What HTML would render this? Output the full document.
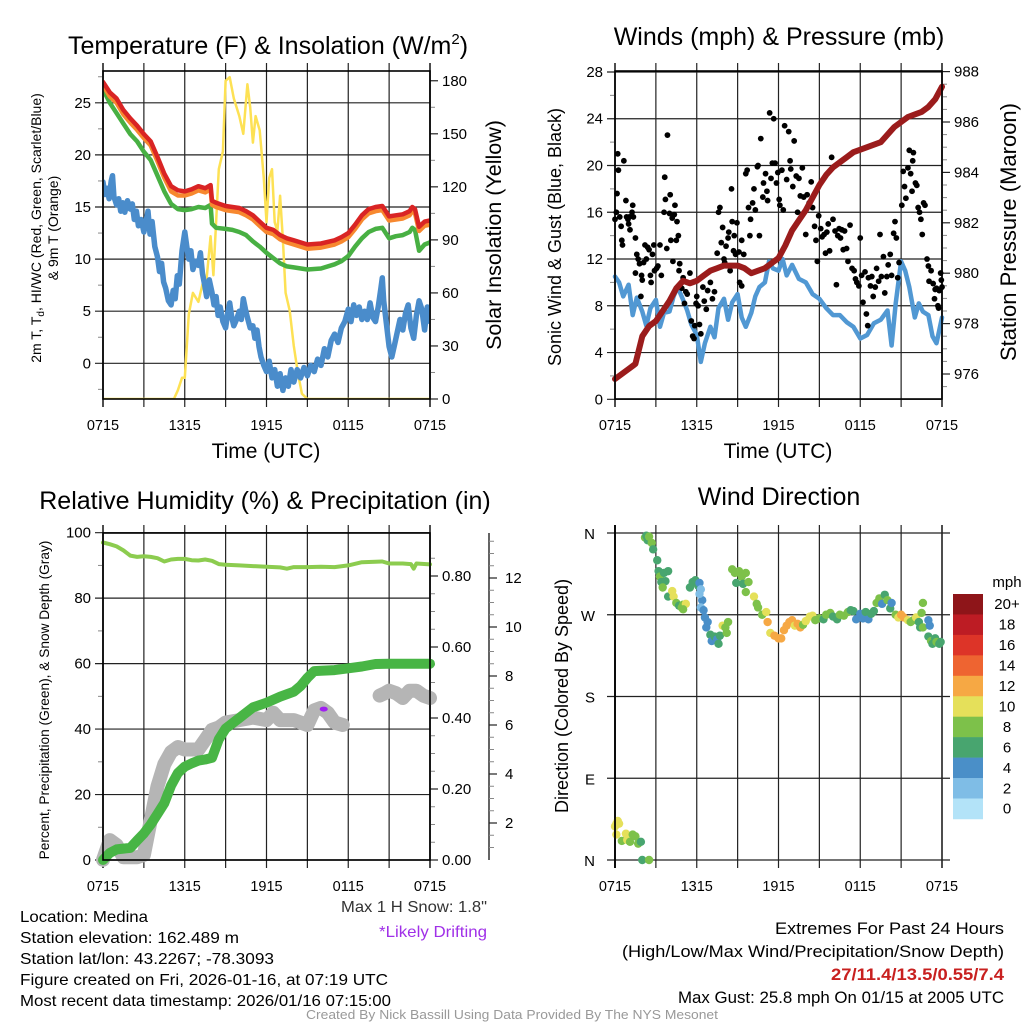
<!DOCTYPE html>
<html><head><meta charset="utf-8">
<style>
html,body{margin:0;padding:0;background:#fff;}
svg{display:block;font-family:"Liberation Sans",sans-serif;}
</style></head>
<body>
<svg id="fig" width="1024" height="1024" viewBox="0 0 1024 1024" xmlns="http://www.w3.org/2000/svg">
<rect width="1024" height="1024" fill="#fff"/>
<g id="p1"></g>
<g id="p2"></g>
<g id="p3"></g>
<g id="p4"></g>

<text x="268" y="54" font-size="25" text-anchor="middle">Temperature (F) &amp; Insolation (W/m<tspan dy="-10" font-size="15">2</tspan><tspan dy="10">)</tspan></text>
<text x="779" y="45" font-size="25" text-anchor="middle">Winds (mph) &amp; Pressure (mb)</text>
<text x="265" y="509" font-size="25" text-anchor="middle">Relative Humidity (%) &amp; Precipitation (in)</text>
<text x="779" y="505" font-size="25" text-anchor="middle">Wind Direction</text>

<text x="266" y="458" font-size="21" text-anchor="middle">Time (UTC)</text>
<text x="778" y="458" font-size="21" text-anchor="middle">Time (UTC)</text>

<text transform="translate(41,228) rotate(-90)" font-size="14" text-anchor="middle">2m T, T<tspan dy="3" font-size="10">d</tspan><tspan dy="-3">, HI/WC (Red, Green, Scarlet/Blue)</tspan></text>
<text transform="translate(58,228) rotate(-90)" font-size="14" text-anchor="middle">&amp; 9m T (Orange)</text>
<text transform="translate(501,235) rotate(-90)" font-size="21.5" text-anchor="middle">Solar Insolation (Yellow)</text>
<text transform="translate(561,237) rotate(-90)" font-size="18" text-anchor="middle">Sonic Wind &amp; Gust (Blue, Black)</text>
<text transform="translate(1016,232) rotate(-90)" font-size="22" text-anchor="middle">Station Pressure (Maroon)</text>
<text transform="translate(49,700) rotate(-90)" font-size="13.7" text-anchor="middle">Percent, Precipitation (Green), &amp; Snow Depth (Gray)</text>
<text transform="translate(568,696) rotate(-90)" font-size="18" text-anchor="middle">Direction (Colored By Speed)</text>

<text x="487" y="912" font-size="16" text-anchor="end" fill="#333" textLength="146" lengthAdjust="spacingAndGlyphs">Max 1 H Snow: 1.8"</text>
<text x="487" y="937" font-size="16" text-anchor="end" fill="#a030e8" textLength="108" lengthAdjust="spacingAndGlyphs">*Likely Drifting</text>

<g font-size="16">
<text x="20" y="922" textLength="128" lengthAdjust="spacingAndGlyphs">Location: Medina</text>
<text x="20" y="943" textLength="219" lengthAdjust="spacingAndGlyphs">Station elevation: 162.489 m</text>
<text x="20" y="964" textLength="254" lengthAdjust="spacingAndGlyphs">Station lat/lon: 43.2267; -78.3093</text>
<text x="20" y="985" textLength="368" lengthAdjust="spacingAndGlyphs">Figure created on Fri, 2026-01-16, at 07:19 UTC</text>
<text x="20" y="1006" textLength="371" lengthAdjust="spacingAndGlyphs">Most recent data timestamp: 2026/01/16 07:15:00</text>
</g>
<g font-size="17" text-anchor="end">
<text x="1004" y="934" textLength="229" lengthAdjust="spacingAndGlyphs">Extremes For Past 24 Hours</text>
<text x="1004" y="957" textLength="382" lengthAdjust="spacingAndGlyphs">(High/Low/Max Wind/Precipitation/Snow Depth)</text>
<text x="1004" y="980" fill="#c8201f" font-weight="bold" textLength="173" lengthAdjust="spacingAndGlyphs">27/11.4/13.5/0.55/7.4</text>
<text x="1004" y="1003" textLength="326" lengthAdjust="spacingAndGlyphs">Max Gust: 25.8 mph On 01/15 at 2005 UTC</text>
</g>
<text x="512" y="1019" font-size="13" text-anchor="middle" fill="#999" textLength="412" lengthAdjust="spacingAndGlyphs">Created By Nick Bassill Using Data Provided By The NYS Mesonet</text>
</svg>

<script>
// ---------- DATA ----------
const xTickLabels = ["0715","1315","1915","0115","0715"];
// Temperature panel (hours since 0715)
const tempT  = [0,0.5,1,1.5,2,2.5,3,3.5,4,4.5,5,5.5,6,6.5,7,7.5,7.9,8.0,8.3,9,9.5,10,10.5,11,11.5,12,12.5,13,13.5,14,15,16,17,17.5,18,18.5,19,19.5,20,20.5,21,21.5,22,22.5,22.7,22.9,23.2,23.6,24];
const tempRed= [27,26,25.4,24.3,23.5,22.8,22,21.3,19.8,18.2,17,16.6,16.5,16.7,17,16.8,17.1,15.6,15.4,15.1,15,14.9,14.6,14.2,13.6,13,12.8,12.3,12,11.8,11.4,11.5,11.8,12.1,12.5,13.3,14.2,14.8,15,15.1,14.1,14.2,14.3,14.6,15,14.8,13.1,13.6,13.7];
const tempOrg= [26.7,25.6,25,23.9,23.1,22.4,21.6,20.9,19.4,17.8,16.5,16.1,16.1,16.3,16.6,16.4,16.7,15.2,15,14.7,14.6,14.5,14.2,13.8,13.2,12.6,12.4,11.9,11.6,11.4,11,11.1,11.4,11.7,12.1,12.9,13.8,14.4,14.6,14.7,13.7,13.8,13.9,14.2,14.6,14.4,12.7,13.2,13.3];
const tempGrn= [26.3,25,24,23,22,21.3,20.3,19.5,18,16.5,15.3,14.8,14.7,14.8,15,14.9,15.2,13.4,13,12.9,12.8,12.6,12.3,11.7,11.2,10.6,10.1,9.6,9.3,9.2,9,9.1,9.5,9.8,10.3,11.2,12,12.6,12.9,13,12,12.2,12.3,12.6,13,12.8,10.8,11.4,11.6];
const dewT   = [0,0.15,0.3,0.45,0.6,0.7,0.8,1,1.15,1.3,1.45,1.6,1.8,2,2.15,2.3,2.45,2.6,2.8,3,3.15,3.3,3.45,3.6,3.8,4,4.15,4.3,4.45,4.6,4.8,5,5.15,5.3,5.45,5.6,5.8,6,6.15,6.3,6.45,6.6,6.8,7,7.15,7.3,7.45,7.6,7.8,8,8.15,8.3,8.45,8.6,8.8,9,9.15,9.3,9.45,9.6,9.8,10,10.15,10.3,10.45,10.6,10.8,11,11.15,11.3,11.45,11.6,11.8,12,12.2,12.4,12.6,12.8,13,13.2,13.4,13.6,13.8,14,14.25,14.5,14.75,15,15.25,15.5,15.75,16,16.25,16.5,16.75,17,17.25,17.5,17.75,18,18.2,18.4,18.6,18.8,19,19.2,19.4,19.6,19.8,20,20.2,20.4,20.5,20.6,20.8,21,21.2,21.4,21.6,21.8,22,22.2,22.4,22.6,22.8,23,23.2,23.4,23.6,23.8,24];
const dewVal = [17.4,16.2,16.8,15.8,17.5,18,16,15.2,15.8,14.6,15.4,14.5,15.6,14.8,15.3,13.8,14.6,13.2,13.8,12.6,13.5,14.6,12.4,13.6,11.2,10.2,8.8,9.6,7.8,7.2,6,5.6,7,6.2,8.4,7.6,10.8,12.6,11.2,10,10.8,9,9.8,9.4,10.6,8.6,7.6,6.4,8,6.8,5.6,6.4,4.6,5.4,4,3.4,4.8,5.8,4.4,3.6,4.2,5,4.2,6.2,5.2,4.4,3.4,3.6,2.4,3.2,1.6,0.6,-0.2,-0.8,0.2,-1.4,-0.6,-2.2,-1,-2.6,-1.4,-2.2,-0.6,-1.8,-0.6,-1.4,-0.4,-1.2,-0.2,-0.8,0.4,-0.2,1.4,0.6,2.2,2.8,2,3.4,4,5.2,4,5.6,4.6,5.4,4.2,5,4.2,5.8,4.4,4,5.4,7.2,8.2,6,3.8,1.6,0.6,1.8,3,4.2,3.2,4.8,5.6,3.4,2.4,4.6,6,5.2,3.2,5.4,4,4.2];
const solT   = [0,5.2,5.5,5.8,6,6.3,6.6,7,7.3,7.6,7.9,8.1,8.3,8.5,8.8,9,9.3,9.6,10,10.3,10.6,10.8,11,11.2,11.5,11.8,12,12.2,12.4,12.6,12.8,13,13.2,13.4,13.7,14,14.3,14.6,15,24];
const solVal = [0,0,5,12,12,48,60,55,65,68,92,70,100,130,140,180,182,170,160,150,178,165,145,160,152,125,100,125,130,100,95,115,90,60,50,30,15,3,0,0];
// Wind panel
const windT  = [0,0.3,0.6,1,1.3,1.6,2,2.3,2.6,3,3.3,3.6,4,4.3,4.6,5,5.3,5.6,6,6.3,6.6,7,7.3,7.6,8,8.3,8.6,9,9.3,9.6,10,10.3,10.6,11,11.3,11.6,12,12.3,12.6,13,13.5,14,14.5,15,15.5,16,16.5,17,17.5,18,18.5,19,19.5,20,20.3,20.6,21,21.3,21.6,22,22.3,22.6,23,23.3,23.6,24];
const windVal= [10.5,10,8.8,9.8,7.2,8.7,7.5,6.3,7.8,8.5,6.2,7.4,7.5,8.8,9.6,8.5,7.6,6.4,5.5,3.2,4.8,6.2,5.3,7.8,8.6,6.8,8.3,9,7,6.2,7.4,8.8,9.6,10,11.8,11.2,11,12,10.6,11.5,10.3,10,9,8.6,7.8,7.2,7.2,6.6,6.2,5.2,5.5,6.5,6.8,7.6,4.6,8.2,11.8,11,9.6,7,8.2,7.5,7.2,5.4,4.8,7];
const presT  = [0,0.5,1,1.5,2,2.5,3,3.5,4,4.5,5,5.5,6,6.5,7,7.5,8,8.5,9,9.5,10,10.5,11,11.5,12,12.5,13,13.5,14,14.5,15,15.5,16,16.5,17,17.5,18,18.5,19,19.5,20,20.5,21,21.5,22,22.5,23,23.5,24];
const presVal= [975.8,976.0,976.2,976.4,977.5,977.9,978.1,978.5,978.9,979.4,979.7,979.6,979.7,979.9,980.1,980.2,980.3,980.3,980.3,980.2,980.0,980.1,980.2,980.4,980.6,981.1,981.7,982.1,982.5,983.0,983.5,983.9,984.2,984.4,984.6,984.8,984.9,985.0,985.1,985.2,985.5,985.8,986.0,986.2,986.3,986.4,986.6,986.9,987.4];
const gustT  = [0,0.1,0.15,0.2,0.25,0.35,0.45,0.5,0.55,0.65,0.8,0.85,0.95,1,1.05,1.1,1.25,1.3,1.35,1.5,1.5,1.6,1.7,1.8,1.9,1.95,2,2.1,2.2,2.3,2.4,2.5,2.6,2.65,2.75,2.85,2.9,3.05,3.15,3.3,3.4,3.6,3.65,3.7,3.8,3.85,4,4.05,4.1,4.2,4.25,4.35,4.4,4.5,4.55,4.65,4.7,4.75,4.9,5,5.1,5.2,5.3,5.5,5.6,5.7,5.8,5.85,5.95,6,6.1,6.2,6.3,6.45,6.55,6.7,6.8,7,7.15,7.3,7.5,7.6,7.7,7.8,7.9,8,8.05,8.15,8.3,8.35,8.45,8.55,8.6,8.7,8.75,8.85,8.95,9.1,9.15,9.3,9.3,9.45,9.6,9.7,9.8,9.9,9.95,10.1,10.2,10.3,10.45,10.5,10.6,10.7,10.85,10.9,11.05,11.15,11.2,11.35,11.45,11.55,11.65,11.75,11.85,11.95,12.05,12.1,12.25,12.35,12.45,12.6,12.75,12.85,12.9,13.05,13.15,13.3,13.4,13.5,13.6,13.75,13.85,14,14.1,14.25,14.4,14.5,14.65,14.75,14.85,14.95,15.1,15.2,15.35,15.45,15.55,15.65,15.75,15.9,16,16.15,16.25,16.35,16.45,16.55,16.65,16.75,16.85,17,17.1,17.25,17.4,17.55,17.65,17.75,17.9,18,18.1,18.2,18.35,18.45,18.55,18.6,18.75,18.85,18.95,19.1,19.2,19.35,19.45,19.55,19.7,19.8,19.95,20.05,20.2,20.3,20.45,20.55,20.65,20.75,20.85,21.05,21.15,21.25,21.35,21.5,21.6,21.7,21.8,21.85,21.9,22.05,22.15,22.25,22.35,22.45,22.55,22.65,22.75,22.9,23,23.05,23.2,23.35,23.45,23.5,23.6,23.7,23.75,23.8,23.9,23.95,24];
const gustVal= [15.4,16,17.6,21,19.6,15.6,14.8,13.6,13.2,20.4,17,15.6,15.4,15,15.6,14.5,16,16.6,15.6,13.8,10.8,12.4,12,11.6,8.8,10.6,10.2,11.7,13.2,12,13,12.8,10.6,10,12.4,13.2,11,11.2,11.4,13.2,10.6,16,19,17.1,12.9,22.6,15.9,17.5,13.6,15.5,11.8,15.8,16.6,13.6,15.2,14,11,11.6,9.5,10.4,8.2,9.2,9,10.8,6.7,5.4,5.2,6.3,8.2,8.8,8,6.4,5.6,9.6,8.4,7.7,9.3,10,8.6,9.2,12.5,16,16.4,13.4,14.7,12,11.7,13.1,13.8,14.3,11,18,15.2,12.7,14,12.4,15.1,12.6,10,9.7,13.6,12.4,19.3,19.6,16.4,14,15.4,16.8,18,16.2,19.9,20,14,22.3,17.3,18.5,19.3,17.8,17,24.5,18.9,20.2,24,20.2,18.5,19.4,17.1,16.6,19.6,16.2,23.4,18.8,22.9,20.4,19.7,18.2,22.1,19.1,16,18.9,17.4,19.8,17.3,14.1,17.5,16.8,18.6,16.4,14.8,13.6,11.8,15.7,14.6,13.9,14.1,12.5,14.3,15,12.7,20.7,15.4,14.4,9.8,14,14.6,13.8,14.5,12.8,14.4,12.9,11.8,14.9,11.2,11,10.3,10,9.7,13.8,10.6,8.3,10.9,7.3,6.3,10.4,9.7,10.5,8.8,9.6,11.2,10.1,14.1,10.5,12.2,9.1,10.5,11.5,12.4,10.6,14.2,15.2,13.8,10.4,11.7,16.6,19.5,18.2,17.2,19.8,21.3,19.3,17.8,20.4,21.1,18.5,18.3,16.4,16,15.4,14.1,16.8,16.6,12,11.4,10.1,11,9.9,8.6,9.4,9.5,8,7.8,9.3,10.8,10.2,9.6];
// Humidity panel
const rhT    = [0,0.5,1,1.5,2,2.5,3,3.5,4,4.5,5,5.5,6,6.5,7,7.5,8,8.5,9,10,11,12,13,13.5,14,15,16,17,18,19,20,20.5,21,22,22.6,22.8,23,24];
const rhVal  = [97,96.5,95.8,94.6,93,92.6,92.8,92.6,92.2,91.2,91.8,92,92,91.6,91.5,91.8,91.4,90.4,90.2,90,89.8,89.6,89.4,89,89.5,89.5,89.6,89.5,90,91,91.1,91.2,90.6,90.6,90.4,89,90.6,90.3];
const prT    = [0,0.5,1,1.5,2,2.5,3,3.5,4,4.5,5,5.5,6,6.5,7,7.5,8,8.5,9,9.5,10,11,12,13,14,14.5,15,15.5,16,17,18,19,20,21,22,23,24];
const prVal  = [0,0.02,0.03,0.032,0.034,0.055,0.075,0.1,0.13,0.16,0.21,0.245,0.263,0.272,0.28,0.283,0.288,0.34,0.37,0.385,0.4,0.43,0.443,0.46,0.474,0.49,0.513,0.532,0.533,0.535,0.54,0.545,0.552,0.553,0.553,0.553,0.553];
const snowT  = [0,0.5,1,1.5,2,2.5,3,3.5,4,4.5,5,5.5,6,6.5,7,7.5,8,8.5,9,10,11,12,12.5,13,14,15,15.5,16,16.5,17,17.6,20.3,20.7,21,21.5,22,22.5,23,23.5,24];
const snowVal= [0.5,1.3,1.1,0.6,0.6,0.6,0.7,2.1,3.5,4.4,4.9,5.1,5.0,5.0,5.0,5.4,5.8,5.9,6.1,6.2,6.3,6.2,6.5,6.2,6.2,6.0,6.6,6.7,6.5,6.1,6.0,7.2,7.3,7.4,7.3,7.1,7.4,7.4,7.2,7.1];
const snowGapAfter = 17.6;
const driftT = [1.6,16.2];
const driftVal=[1.0,6.65];
// Wind direction panel
const dirT   = [0,0.1,0.2,0.3,0.1,0.5,0.8,0.9,1.1,1.3,1.5,1.7,1.9,2.0,2.5,2.2,2.3,2.4,2.5,2.7,2.8,3.1,3.2,3.3,3.4,3.6,3.7,3.9,3.5,3.9,4.2,4.3,4.5,4.7,4.9,5.0,5.2,5.0,5.5,5.7,5.9,6.1,6.2,6.3,6.4,6.2,6.3,6.5,6.6,6.8,6.7,7.0,7.1,7.3,7.5,7.6,7.7,7.9,8.1,8.3,8.2,8.6,8.8,8.9,9.1,9.3,9.4,9.6,9.8,9.6,10.2,10.4,10.5,10.8,11.2,11.1,11.4,11.7,12.0,12.2,12.4,12.6,12.8,13.0,13.2,13.4,13.6,13.8,14.0,14.3,14.5,14.7,15.0,15.3,15.5,15.8,16.0,16.3,16.5,16.8,17.1,17.3,17.5,17.7,18.0,18.2,18.4,18.6,18.8,19.0,19.2,19.4,19.6,19.8,20.0,20.2,20.3,20.6,20.8,21.0,21.2,21.5,21.7,21.9,22.1,22.3,22.4,22.5,22.6,22.6,23.0,23.1,23.0,23.2,23.3,23.5,23.6,23.8,23.9];
const dirVal = [37,40,43,40,28,21,29,22,20,28,26,18,20,0,0,355,357,352,356,349,342,330,318,312,306,316,307,318,300,290,296,290,283,280,278,281,282,276,300,306,308,302,305,298,286,293,278,275,267,262,256,248,241,246,243,238,247,258,256,262,250,320,316,305,318,312,304,316,306,295,290,282,278,270,262,273,250,247,244,244,253,258,262,264,258,260,256,259,263,268,269,264,266,265,270,272,268,265,270,269,273,275,274,265,271,266,273,265,271,274,283,288,282,292,286,277,283,270,267,270,267,264,262,264,267,262,256,272,283,256,264,258,246,241,238,244,240,238,240];
const dirSpd = [10,10,10,10,10,8,10,10,8,8,8,8,6,6,8,8,6,6,8,8,6,6,6,8,6,6,6,6,8,6,10,10,8,6,8,8,10,8,6,6,6,6,4,2,4,2,2,4,4,4,4,6,4,6,4,6,6,10,8,8,8,8,8,6,8,8,6,8,8,8,10,8,8,8,12,10,10,12,12,12,12,12,12,12,10,12,12,8,10,10,10,8,8,6,8,8,6,6,8,8,8,6,6,4,4,4,6,4,6,6,8,8,4,6,8,6,4,8,10,12,12,10,8,8,10,6,6,8,8,8,4,4,6,8,6,6,8,6,6];
const cbLabels = ["20+","18","16","14","12","10","8","6","4","2","0"];
const cbColors = ["#8e1519","#bd1c24","#dd3428","#ee6431","#f6a844","#e5e05a","#7dc14a","#48a56f","#4a8fc8","#7fbde6","#b3e3f8"];

// ---------- HELPERS ----------
const NS="http://www.w3.org/2000/svg";
function mk(parent,tag,attrs){const e=document.createElementNS(NS,tag);for(const k in attrs)e.setAttribute(k,attrs[k]);parent.appendChild(e);return e;}
function txt(parent,x,y,s,size,anchor,fill){const e=mk(parent,"text",{x:x,y:y,"font-size":size,"text-anchor":anchor||"start",fill:fill||"#000"});e.textContent=s;return e;}
function panel(g,x0,x1,y0,y1){
  const X=t=>x0+(x1-x0)*t/24;
  for(let h=0;h<=24;h+=3){
    const ln=mk(g,"line",{x1:X(h),x2:X(h),y1:y0-8,y2:y1+8,stroke:"#222","stroke-width":(h===0||h===24)?1.6:1.2});
    
    
  }
  xTickLabels.forEach((s,i)=>{const e=txt(g,X(i*6),y1+31,s,14.5,"middle");
    
    });
  return X;
}
function frame(g,x0,x1,y0,y1){mk(g,"rect",{x:x0,y:y0,width:x1-x0,height:y1-y0,fill:"none",stroke:"#000","stroke-width":1.6});}
function hgrid(g,x0,x1,y,label,side){
  const ln=mk(g,"line",{x1:x0-(side==="L"?8:0),x2:x1,y1:y,y2:y,stroke:"#222","stroke-width":1.2});
  
  
  const e=txt(g,x0-12,y+5,label,15,"end");
  
  
}
function rtick(g,x1,y,label,len){
  mk(g,"line",{x1:x1,x2:x1+(len||8),y1:y,y2:y,stroke:"#222","stroke-width":1.2});
  if(label!==null){const e=txt(g,x1+12,y+5,label,15,"start");
    
    }
}
function minorL(g,x0,y){mk(g,"line",{x1:x0-5,x2:x0,y1:y,y2:y,stroke:"#888","stroke-width":1});}
function minorR(g,x1,y){mk(g,"line",{x1:x1,x2:x1+5,y1:y,y2:y,stroke:"#888","stroke-width":1});}
function path(g,xs,ys,X,Y,stroke,w,name,breakAfter){
  let d="";
  for(let i=0;i<xs.length;i++){
    const cmd=(i===0||(breakAfter!==undefined&&xs[i-1]<=breakAfter&&xs[i]>breakAfter))?"M":"L";
    d+=cmd+X(xs[i]).toFixed(1)+","+Y(ys[i]).toFixed(1);
  }
  const p=mk(g,"path",{d:d,fill:"none",stroke:stroke,"stroke-width":w,"stroke-linejoin":"round","stroke-linecap":"round"});
  
  
  return p;
}

// ---------- PANEL 1 ----------
(function(){
  const g=document.getElementById("p1");
  const x0=103,x1=430,y0=71,y1=399;
  const X=panel(g,x0,x1,y0,y1);
  const Y=v=>363.3-(v)*10.42;
  const YS=v=>399-v*1.768;
  for(let v=0;v<=25;v+=5)hgrid(g,x0,x1,Y(v),String(v),"L");
  for(let v=-2.5;v<=27.5;v+=5)minorL(g,x0,Y(v));
  for(let v=0;v<=180;v+=30)rtick(g,x1,YS(v),String(v));
  for(let v=15;v<=180;v+=30)minorR(g,x1,YS(v));
  const c=mk(g,"g",{"clip-path":"url(#c1)"});
  const cp=mk(mk(g,"defs",{}),"clipPath",{id:"c1"});mk(cp,"rect",{x:x0,y:y0-2,width:x1-x0,height:y1-y0+2});
  path(c,solT,solVal,X,YS,"#fde154",2.5,"solar-insolation-line");
  path(c,dewT,dewVal,X,Y,"#4a8ccb",5.5,"dewpoint-line");
  path(c,tempT,tempGrn,X,Y,"#48b043",4.5,"windchill-line");
  path(c,tempT,tempOrg,X,Y,"#f7882f",4.5,"temp-9m-line");
  path(c,tempT,tempRed,X,Y,"#d92424",4.5,"temp-2m-line");
  frame(g,x0,x1,y0,y1);
})();

// ---------- PANEL 2 ----------
(function(){
  const g=document.getElementById("p2");
  const x0=615,x1=942,y0=71,y1=399;
  const X=panel(g,x0,x1,y0,y1);
  const Y=v=>399.3-v*11.69;
  const YP=v=>374-(v-976)*25.2;
  for(let v=0;v<=28;v+=4)hgrid(g,x0,x1,Y(v),String(v),"L");
  for(let v=2;v<=26;v+=4)minorL(g,x0,Y(v));
  for(let v=976;v<=988;v+=2)rtick(g,x1,YP(v),String(v));
  for(let v=975.5;v<=987.5;v+=0.5){if(v%2!==0)minorR(g,x1,YP(v));}
  path(g,windT,windVal,X,Y,"#5198d3",4.5,"sonic-wind-line");
  const dots=mk(g,"g",{});
  for(let i=0;i<gustT.length;i++){
    const d=mk(dots,"circle",{cx:X(gustT[i]),cy:Y(gustVal[i]),r:2.9,fill:"#000"});
    
    
  }
  path(g,presT,presVal,X,YP,"#9b1c1c",6,"station-pressure-line");
  frame(g,x0,x1,y0,y1);
})();

// ---------- PANEL 3 ----------
(function(){
  const g=document.getElementById("p3");
  const x0=103,x1=430,y0=533,y1=860;
  const X=panel(g,x0,x1,y0,y1);
  const Y=v=>860-v*3.273;
  const YR=v=>860-v*355;
  const YS=v=>872-v*24.5;
  for(let v=0;v<=100;v+=20)hgrid(g,x0,x1,Y(v),String(v),"L");
  for(let v=10;v<=90;v+=20)minorL(g,x0,Y(v));
  for(let v=0;v<=0.8;v+=0.2)rtick(g,x1,YR(v),v.toFixed(2));
  for(let v=0.05;v<=0.9;v+=0.05){if(Math.round(v*100)%20!==0)minorR(g,x1,YR(v));}
  mk(g,"line",{x1:489,x2:489,y1:y0,y2:y1,stroke:"#222","stroke-width":1.4});
  for(let v=2;v<=12;v+=2){mk(g,"line",{x1:489,x2:497,y1:YS(v),y2:YS(v),stroke:"#222","stroke-width":1.2});
    const e=txt(g,505,YS(v)+5,String(v),15,"start");
    
    }
  for(let v=1;v<=13.5;v+=0.5){if(v%2!==0)mk(g,"line",{x1:489,x2:494,y1:YS(v),y2:YS(v),stroke:"#888","stroke-width":1});}
  path(g,snowT,snowVal,X,YS,"#b5b5b5",14,"snow-depth-line",snowGapAfter);
  for(let i=0;i<driftT.length;i++){
    const d=mk(g,"ellipse",{cx:X(driftT[i]),cy:YS(driftVal[i]),rx:4,ry:2.5,fill:"#a020f0"});
    
    
  }
  path(g,prT,prVal,X,YR,"#48b545",10,"precipitation-line");
  path(g,rhT,rhVal,X,Y,"#8ccc4f",4,"relative-humidity-line");
  frame(g,x0,x1,y0,y1);
})();

// ---------- PANEL 4 ----------
(function(){
  const g=document.getElementById("p4");
  const x0=615,x1=942,y0=533,y1=860;
  const X=panel(g,x0,x1,y0,y1);
  const Y=d=>860-d*(327/360);
  ["N","E","S","W","N"].forEach((s,i)=>{
    const y=Y(i*90);
    const ln=mk(g,"line",{x1:x0-8,x2:x1+8,y1:y,y2:y,stroke:"#222","stroke-width":1.2});
    
    
    const e=txt(g,x0-20,y+6,s,15,"end");
    
    
  });
  for(let i=0;i<dirT.length;i++){
    const bin=Math.min(10,Math.floor(dirSpd[i]/2));
    const d=mk(g,"circle",{cx:X(dirT[i]),cy:Y(dirVal[i]),r:4.2,fill:cbColors[10-bin]});
    
    
  }
  mk(g,"line",{x1:x0,x2:x0,y1:y0-8,y2:y1+8,stroke:"#000","stroke-width":1.8});
  const cb=mk(g,"g",{});
  
  
  const h=20.45;
  cbColors.forEach((c,i)=>{
    const r=mk(cb,"rect",{x:953,y:594+i*h,width:30,height:h+0.3,fill:c});
    
    
    const e=txt(cb,1007,594+i*h+h/2+5,cbLabels[i],15,"middle");
    
    
  });
  const m=txt(cb,1007,587,"mph",15,"middle");
  
  
})();
</script>
</body></html>
